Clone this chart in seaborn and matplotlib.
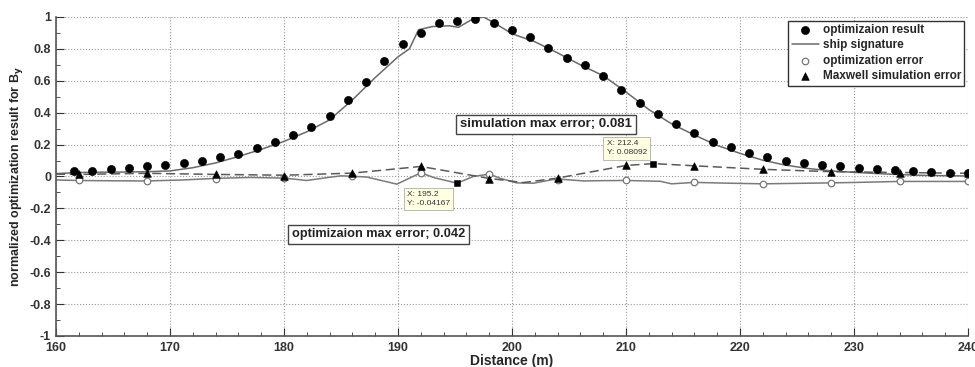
import matplotlib
matplotlib.use("Agg")
import matplotlib.pyplot as plt
import seaborn as sns

# optimization result (filled dots)
opt_x = [161.6, 163.2, 164.8, 166.4, 168.0, 169.6, 171.2, 172.8, 174.4, 176.0,
         177.6, 179.2, 180.8, 182.4, 184.0, 185.6, 187.2, 188.8, 190.4, 192.0,
         193.6, 195.2, 196.8, 198.4, 200.0, 201.6, 203.2, 204.8, 206.4, 208.0,
         209.6, 211.2, 212.8, 214.4, 216.0, 217.6, 219.2, 220.8, 222.4, 224.0,
         225.6, 227.2, 228.8, 230.4, 232.0, 233.6, 235.2, 236.8, 238.4, 240.0]
opt_y = [0.033, 0.036, 0.044, 0.054, 0.065, 0.075, 0.086, 0.096, 0.121, 0.142,
         0.177, 0.219, 0.261, 0.309, 0.382, 0.482, 0.590, 0.722, 0.831, 0.900,
         0.960, 0.977, 0.990, 0.960, 0.918, 0.877, 0.803, 0.743, 0.699, 0.632,
         0.545, 0.459, 0.392, 0.330, 0.271, 0.219, 0.182, 0.148, 0.121, 0.100,
         0.083, 0.071, 0.063, 0.054, 0.046, 0.040, 0.033, 0.029, 0.025, 0.021]

# ship signature (solid line)
sig_x = [160.0, 162.0, 164.0, 166.0, 168.0, 170.0, 172.0, 174.0, 176.0, 178.0,
         180.0, 182.0, 184.0, 186.0, 188.0, 190.0, 191.0, 191.8, 193.0, 194.5,
         195.3, 196.5, 197.5, 198.4, 200.0, 202.0, 204.0, 206.0, 208.0, 210.0,
         212.0, 214.0, 216.0, 218.0, 220.0, 222.0, 224.0, 226.0, 228.0, 230.0,
         233.0, 236.0, 240.0]
sig_y = [0.018, 0.025, 0.027, 0.028, 0.030, 0.035, 0.055, 0.085, 0.125, 0.170,
         0.220, 0.280, 0.355, 0.480, 0.620, 0.750, 0.800, 0.920, 0.940, 0.945,
         0.935, 0.985, 1.000, 0.965, 0.895, 0.845, 0.775, 0.700, 0.632, 0.530,
         0.420, 0.330, 0.260, 0.195, 0.145, 0.102, 0.071, 0.050, 0.035, 0.026,
         0.015, 0.007, 0.003]

# optimization error (open circles + gray line)
err_x = [160.0, 162.0, 165.0, 168.0, 171.0, 174.0, 177.0, 180.0, 182.0, 184.0,
         185.0, 186.0, 187.3, 189.9, 192.0, 193.2, 195.2, 196.6, 198.0, 199.0,
         200.4, 201.9, 203.9, 206.3, 208.0, 210.0, 213.0, 214.0, 216.0, 219.0,
         222.0, 225.0, 228.0, 231.0, 234.0, 237.0, 240.0]
err_y = [-0.022, -0.025, -0.027, -0.028, -0.022, -0.012, -0.006, -0.010, -0.025, -0.005,
         0.004, 0.002, -0.004, -0.048, 0.023, -0.008, -0.042, 0.000, 0.015, -0.012,
         -0.040, -0.042, -0.015, -0.028, -0.026, -0.025, -0.030, -0.046, -0.037, -0.042,
         -0.046, -0.043, -0.040, -0.036, -0.031, -0.031, -0.031]
err_mx = [162, 168, 174, 180, 186, 192, 198, 204, 210, 216, 222, 228, 234, 240]
err_my = [-0.025, -0.031, -0.015, -0.008, 0.000, 0.023, 0.015, -0.020, -0.025,
          -0.037, -0.046, -0.040, -0.031, -0.031]

# Maxwell simulation error (triangles + dashed line)
mx_x = [160, 162, 168, 174, 180, 186, 192, 198, 201, 204, 210, 212.4, 216, 222,
        228, 234, 240]
mx_y = [0.015, 0.013, 0.020, 0.013, 0.008, 0.021, 0.063, -0.012, -0.038, -0.010,
        0.069, 0.081, 0.067, 0.045, 0.030, 0.025, 0.020]
mx_mx = [162, 168, 174, 180, 186, 192, 198, 204, 210, 216, 222, 228, 234, 240]
mx_my = [0.013, 0.023, 0.013, 0.002, 0.021, 0.063, -0.015, -0.010, 0.069, 0.067,
         0.044, 0.029, 0.025, 0.020]

# data tips
tip_x = [195.2, 212.4]
tip_y = [-0.04167, 0.08092]
tip_text = ["X: 195.2\nY: -0.04167", "X: 212.4\nY: 0.08092"]

sns.set_style("ticks")
plt.rcParams["font.family"] = ["Liberation Sans", "DejaVu Sans"]
plt.rcParams["font.weight"] = "bold"

fig = plt.figure(figsize=(9.75, 3.67), dpi=100)
ax = fig.add_axes([0.0574, 0.0845, 0.9354, 0.8692])

# lines
sns.lineplot(x=sig_x, y=sig_y, ax=ax, color="#6a6a6a", lw=1.1, label="ship signature", zorder=2)
sns.lineplot(x=err_x, y=err_y, ax=ax, color="#7a7a7a", lw=1.1, zorder=2)
ax.plot(mx_x, mx_y, color="#5a5a5a", lw=1.1, ls=(0, (6, 3)), zorder=2)

# markers
sns.scatterplot(x=opt_x, y=opt_y, ax=ax, color="black", s=34, marker="o",
                edgecolor="black", label="optimizaion result", zorder=4)
sns.scatterplot(x=err_mx, y=err_my, ax=ax, facecolor="white", s=22, marker="o",
                edgecolor="#777777", linewidth=0.9, label="optimization error", zorder=4)
sns.scatterplot(x=mx_mx, y=mx_my, ax=ax, color="black", s=30, marker="^",
                edgecolor="black", label="Maxwell simulation error", zorder=5)
sns.scatterplot(x=tip_x, y=tip_y, ax=ax, color="black", s=22, marker="s",
                edgecolor="black", zorder=5)

# data tip boxes
tip_box = dict(boxstyle="square,pad=0.4", fc="#ffffe4", ec="#b0b0a0", lw=0.6)
ax.text(190.8, -0.09, tip_text[0], fontsize=6, fontweight="normal", va="top", ha="left",
        color="#333333", linespacing=1.45, bbox=tip_box, zorder=6)
ax.text(208.3, 0.228, tip_text[1], fontsize=6, fontweight="normal", va="top", ha="left",
        color="#333333", linespacing=1.45, bbox=tip_box, zorder=6)

# max error notes
note_box = dict(boxstyle="square,pad=0.3", fc="white", ec="#444444", lw=1.0)
ax.text(203.0, 0.326, "simulation max error; 0.081", fontsize=9.5, fontweight="bold",
        ha="center", va="center", color="#222222", bbox=note_box, zorder=6)
ax.text(188.3, -0.363, "optimizaion max error; 0.042", fontsize=9.2, fontweight="bold",
        ha="center", va="center", color="#222222", bbox=note_box, zorder=6)

# axes
ax.set_xlim(160, 240)
ax.set_ylim(-1, 1)
ax.set_xticks(range(160, 241, 10))
ax.set_xticks(range(160, 241, 2), minor=True)
yt = [-1, -0.8, -0.6, -0.4, -0.2, 0, 0.2, 0.4, 0.6, 0.8, 1]
ax.set_yticks(yt)
ax.set_yticklabels(["-1", "-0.8", "-0.6", "-0.4", "-0.2", "0", "0.2", "0.4", "0.6", "0.8", "1"])
ax.set_yticks([v / 10 for v in range(-10, 11)], minor=True)
ax.tick_params(which="both", direction="in", labelsize=9, colors="#333333")
ax.tick_params(which="major", length=6)
ax.tick_params(which="minor", length=3)
ax.tick_params(axis="x", pad=4)
ax.grid(True, which="major", ls=":", color="#999999", lw=0.8)
for s in ["top", "right"]:
    ax.spines[s].set_visible(False)
for s in ["left", "bottom"]:
    ax.spines[s].set_color("#555555")
    ax.spines[s].set_linewidth(1.2)

ax.set_xlabel("Distance (m)", fontsize=10, fontweight="bold", labelpad=0)
ax.set_ylabel("normalized optimization result for B$_\\mathbf{y}$", fontsize=9,
              fontweight="bold", labelpad=3)

h, l = ax.get_legend_handles_labels()
order = ["optimizaion result", "ship signature", "optimization error", "Maxwell simulation error"]
hh = [h[l.index(o)] for o in order]
leg = ax.legend(hh, order, loc="upper right", fontsize=8.5, frameon=True, fancybox=False,
                edgecolor="#333333", framealpha=1, handlelength=2.3, handletextpad=0.3,
                labelspacing=0.28, borderpad=0.3, borderaxespad=0.3)
leg.get_frame().set_linewidth(1.0)
leg.set_zorder(10)

fig.savefig("out.png", dpi=100)
